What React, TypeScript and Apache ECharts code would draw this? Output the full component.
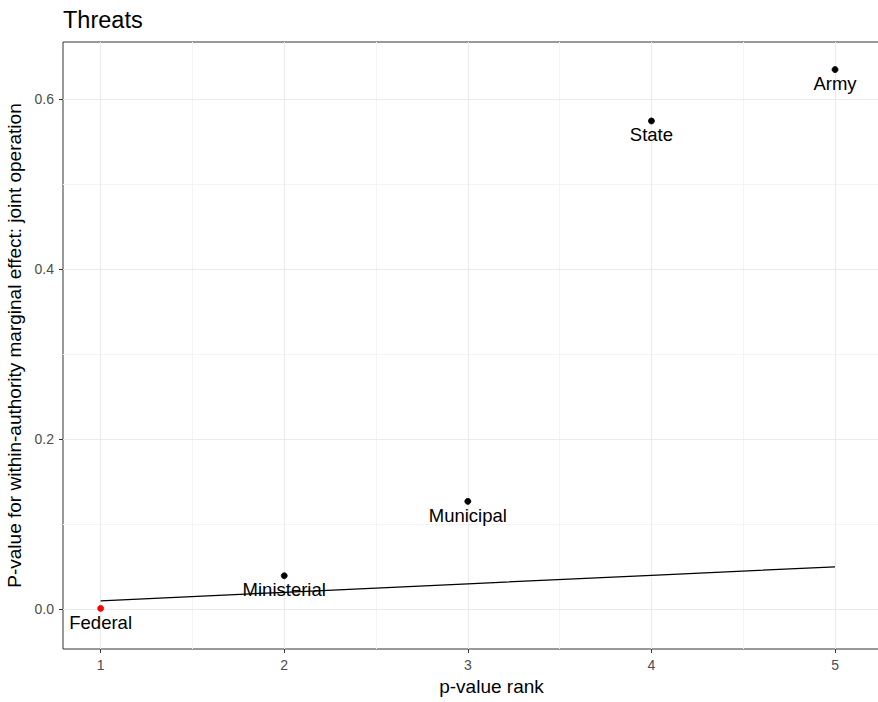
import React, { useEffect, useRef } from "react";
import * as echarts from "echarts";

const authorities = ["Federal", "Ministerial", "Municipal", "State", "Army"];
const ranks = [1, 2, 3, 4, 5];
const pValues = [0.001, 0.0395, 0.127, 0.5745, 0.635];
const pointColors = ["#ff0000", "#000000", "#000000", "#000000", "#000000"];
const thresholds = [0.01, 0.02, 0.03, 0.04, 0.05];
const xTicks = [1, 2, 3, 4, 5];
const xMinor = [1.5, 2.5, 3.5, 4.5];
const yTicks = [0, 0.2, 0.4, 0.6];
const yMinor = [0.1, 0.3, 0.5];

const FONT = "'Liberation Sans', Arial, sans-serif";

export default function App() {
  const ref = useRef<HTMLDivElement>(null);
  useEffect(() => {
    document.body.style.margin = "0";
    const chart = echarts.init(ref.current!, undefined, { renderer: "svg" });
    const gridLines: any[] = [
      ...xMinor.map((v) => ({ xAxis: v, lineStyle: { color: "#f4f4f4", width: 1, type: "solid" } })),
      ...yMinor.map((v) => ({ yAxis: v, lineStyle: { color: "#f4f4f4", width: 1, type: "solid" } })),
      ...xTicks.map((v) => ({ xAxis: v, lineStyle: { color: "#ebebeb", width: 1, type: "solid" } })),
      ...yTicks.map((v) => ({ yAxis: v, lineStyle: { color: "#ebebeb", width: 1, type: "solid" } })),
    ];
    chart.setOption({
      animation: false,
      textStyle: { fontFamily: FONT },
      title: {
        text: "Threats",
        left: 58,
        top: 3,
        textStyle: { fontFamily: FONT, fontSize: 23.5, fontWeight: "normal", color: "#000" },
      },
      grid: {
        left: 63,
        top: 42,
        width: 857,
        bottom: 53,
        show: true,
        borderColor: "#333333",
        borderWidth: 1,
        backgroundColor: "transparent",
        containLabel: false,
        outerBoundsMode: "none",
      },
      xAxis: {
        type: "value",
        position: "bottom",
        min: 0.795,
        max: 0.795 + 857 / 183.6,
        name: "p-value rank",
        nameLocation: "middle",
        nameGap: 28,
        nameTextStyle: { fontFamily: FONT, fontSize: 19, color: "#000" },
        axisLine: { show: false, onZero: false },
        splitLine: { show: false },
        axisTick: { show: true, customValues: xTicks, length: 4, lineStyle: { color: "#333" } },
        axisLabel: { customValues: xTicks, fontSize: 14, color: "#4d4d4d", margin: 9, fontFamily: FONT },
      },
      yAxis: {
        type: "value",
        position: "left",
        min: -0.0467,
        max: 0.6674,
        name: "P-value for within-authority marginal effect: joint operation",
        nameLocation: "middle",
        nameRotate: 90,
        nameGap: 35,
        nameTextStyle: { fontFamily: FONT, fontSize: 19, color: "#000" },
        axisLine: { show: false, onZero: false },
        splitLine: { show: false },
        axisTick: { show: true, customValues: yTicks, length: 4, lineStyle: { color: "#333" } },
        axisLabel: {
          customValues: yTicks,
          fontSize: 14,
          color: "#4d4d4d",
          margin: 9,
          fontFamily: FONT,
          formatter: (v: number) => v.toFixed(1),
        },
      },
      series: [
        {
          type: "line",
          z: 0,
          data: [[ranks[0], thresholds[0]]],
          symbol: "none",
          lineStyle: { opacity: 0 },
          silent: true,
          markLine: {
            z: 0,
            silent: true,
            symbol: ["none", "none"],
            label: { show: false },
            emphasis: { disabled: true },
            data: gridLines,
          },
        },
        {
          type: "line",
          z: 2,
          data: ranks.map((r, i) => [r, thresholds[i]]),
          symbol: "none",
          lineStyle: { color: "#000", width: 1.2 },
          silent: true,
        },
        {
          type: "scatter",
          z: 3,
          symbol: "circle",
          symbolSize: 6,
          data: authorities.map((name, i) => ({
            name,
            value: [ranks[i], pValues[i]],
            itemStyle: { color: pointColors[i], opacity: 1, borderColor: pointColors[i], borderWidth: 0.8 },
          })),
          label: {
            show: true,
            position: "bottom",
            distance: 1,
            formatter: "{b}",
            fontSize: 18.5,
            color: "#000",
            fontFamily: FONT,
          },
        },
      ],
    });
    return () => chart.dispose();
  }, []);
  return (
    <div style={{ position: "fixed", left: 0, top: 0, width: 878, height: 702, overflow: "hidden", background: "#fff" }}>
      <div ref={ref} style={{ width: 940, height: 702 }} />
    </div>
  );
}
